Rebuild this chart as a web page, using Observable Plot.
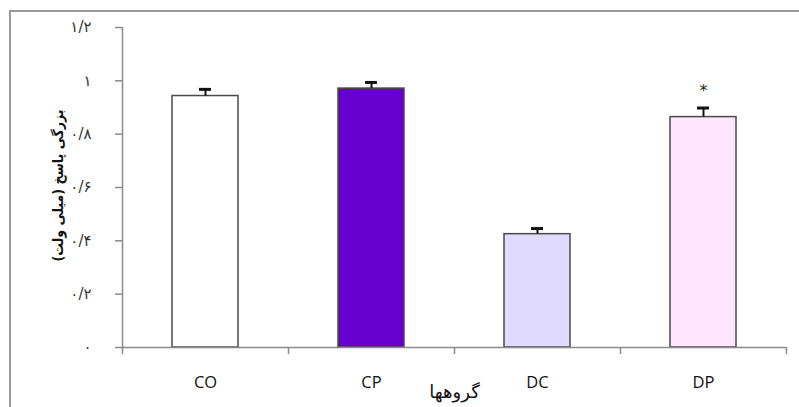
<!DOCTYPE html>
<html>
<head>
<meta charset="utf-8">
<script src="https://cdn.jsdelivr.net/npm/d3@7"></script>
<script src="https://cdn.jsdelivr.net/npm/@observablehq/plot@0.6"></script>
<style>
  html, body { margin: 0; padding: 0; background: #fff; overflow: hidden; }
  #wrap { position: relative; width: 799px; height: 407px; }
  #frame { position: absolute; left: 9px; top: 10px; right: 0; bottom: 0;
           border-left: 2px solid #9a9a9a; border-top: 2px solid #9a9a9a; }
  #chart { position: absolute; left: 0; top: 0; }
</style>
</head>
<body>
<div id="wrap"><div id="frame"></div><div id="chart"></div></div>
<script>
const categories = ["CO", "CP", "DC", "DP"];
const values = [0.943, 0.971, 0.425, 0.864];
const errors = [0.025, 0.023, 0.021, 0.034];
const fills = ["#ffffff", "#6600cc", "#e0daff", "#ffe6fc"];
const annotations = ["", "", "", "*"];
const yTicks = [0, 0.2, 0.4, 0.6, 0.8, 1, 1.2];
const yTickLabels = ["۰", "۰/۲", "۰/۴", "۰/۶", "۰/۸", "۱", "۱/۲"];
const yTitle = "بزرگی پاسخ (میلی ولت)";
const xTitle = "گروهها";

const rows = categories.map((c, i) => ({c, i, v: values[i], e: errors[i], fill: fills[i], note: annotations[i]}));
const boundaries = d3.range(categories.length + 1);

const chart = Plot.plot({
  width: 799, height: 407,
  marginLeft: 122, marginRight: 13, marginTop: 27, marginBottom: 60,
  x: {domain: [0, categories.length], axis: null},
  y: {domain: [0, 1.2], axis: null},
  color: {type: "identity"},
  style: {background: "transparent"},
  marks: [
    Plot.rect(rows, {x1: "i", x2: d => d.i + 1, y1: 0, y2: "v", fill: "fill",
      stroke: "#4a4a4a", strokeWidth: 1.5, insetLeft: 50, insetRight: 50}),
    Plot.ruleX(rows, {x: d => d.i + 0.5, y1: "v", y2: d => d.v + d.e, stroke: "#111", strokeWidth: 2}),
    Plot.ruleY(rows, {y: d => d.v + d.e, x1: "i", x2: d => d.i + 1, insetLeft: 77, insetRight: 77, stroke: "#111", strokeWidth: 3}),
    Plot.text(rows.filter(d => d.note), {x: d => d.i + 0.5, y: d => d.v + d.e, text: "note", dy: -17,
      fontSize: 16, fill: "#222", fontFamily: "DejaVu Sans"}),
    Plot.ruleX([0], {y1: 0, y2: 1.2, stroke: "#8a8a8a", strokeWidth: 1.5}),
    Plot.ruleY([0], {stroke: "#8a8a8a", strokeWidth: 1.5}),
    Plot.ruleY(yTicks, {y: d => d, x1: 0, x2: 0, insetLeft: -7, stroke: "#8a8a8a", strokeWidth: 1.5}),
    Plot.axisX(boundaries, {tickSize: 7, tickFormat: () => "", stroke: "#8a8a8a", strokeWidth: 1.5, label: null}),
    Plot.text(yTicks, {x: 0, y: d => d, text: (d, i) => yTickLabels[i], textAnchor: "end", dx: -31,
      fontSize: 15, fill: "#333", fontFamily: "DejaVu Sans"}),
    Plot.text(rows, {x: d => d.i + 0.5, y: 0, text: "c", dy: 35, fontSize: 16.5, fill: "#111",
      fontFamily: "Open Sans", letterSpacing: "3px"}),
    Plot.text([xTitle], {frameAnchor: "bottom", dy: 50, fontSize: 18, fill: "#111", fontFamily: "DejaVu Sans"}),
    Plot.text([yTitle], {frameAnchor: "left", dx: -64, dy: -2, rotate: -90, textAnchor: "middle", fontSize: 14, fontWeight: "bold",
      fill: "#111", fontFamily: "DejaVu Sans Condensed"})
  ]
});
document.getElementById("chart").appendChild(chart);
</script>
</body>
</html>
